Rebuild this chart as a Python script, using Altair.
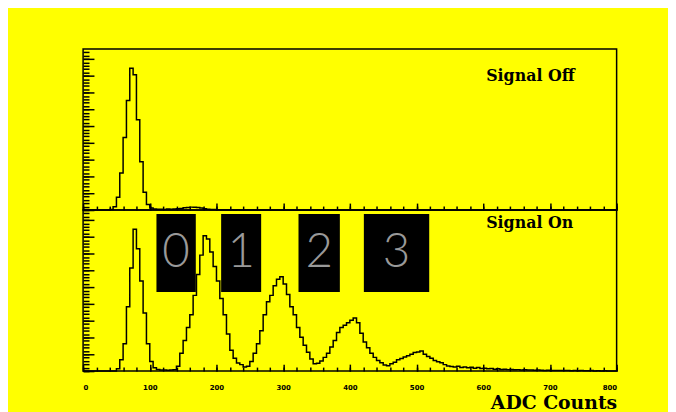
import altair as alt
import pandas as pd

# ---------------- data ----------------
# lower edges of 5-ADC-count bins, 0 .. 795
adc_edges = list(range(0, 800, 5))

# "Signal Off" histogram, per-mille of panel height
signal_off = [
    0, 0, 0, 0, 0, 0, 0, 0, 3, 20,
    80, 230, 450, 680, 880, 840, 560, 300, 110, 35,
    12, 7, 5, 5, 4, 6, 5, 7, 8, 10,
    14, 16, 18, 17, 15, 12, 8, 5, 3, 3,
    2, 2, 1, 1, 1, 0, 1, 0, 0, 0,
    0, 0, 0, 0, 0, 0, 0, 0, 0, 0,
    0, 0, 0, 0, 0, 0, 0, 0, 0, 0,
    0, 0, 0, 0, 0, 0, 0, 0, 0, 0,
    0, 0, 0, 0, 0, 0, 0, 0, 0, 0,
    0, 0, 0, 0, 0, 0, 0, 0, 0, 0,
    0, 0, 0, 0, 0, 0, 0, 0, 0, 0,
    0, 0, 0, 0, 0, 0, 0, 0, 0, 0,
    0, 0, 0, 0, 0, 0, 0, 0, 0, 0,
    0, 0, 0, 0, 0, 0, 0, 0, 0, 0,
    0, 0, 0, 0, 0, 0, 0, 0, 0, 0,
    0, 0, 0, 0, 0, 0, 0, 0, 0, 0,
]

# "Signal On" histogram, per-mille of panel height
signal_on = [
    0, 0, 0, 0, 0, 0, 0, 0, 0, 0,
    15, 70, 170, 400, 640, 880, 760, 560, 360, 170,
    60, 20, 10, 7, 6, 5, 6, 8, 30, 110,
    190, 270, 350, 470, 600, 720, 840, 820, 740, 650,
    560, 450, 350, 230, 130, 80, 50, 40, 25, 30,
    60, 110, 170, 250, 350, 430, 470, 530, 570, 585,
    540, 475, 400, 350, 270, 210, 160, 117, 75, 45,
    48, 62, 85, 110, 150, 190, 240, 270, 285, 300,
    315, 330, 300, 235, 180, 145, 110, 85, 65, 52,
    38, 33, 45, 55, 70, 78, 88, 95, 105, 115,
    118, 125, 105, 90, 80, 65, 58, 52, 40, 32,
    28, 25, 30, 22, 26, 20, 24, 18, 22, 16,
    18, 14, 16, 12, 14, 10, 12, 9, 10, 8,
    9, 7, 8, 6, 7, 5, 6, 5, 4, 5,
    4, 3, 4, 3, 3, 4, 2, 3, 2, 3,
    2, 2, 3, 1, 2, 1, 2, 0, 0, 0,
]

x_tick_labels = [0, 100, 200, 300, 400, 500, 600, 700, 800]
panel_labels = ["Signal Off", "Signal On"]

overlay_labels = ["0", "1", "2", "3"]
overlay_left = [110, 207, 323, 421]
overlay_right = [169, 267, 385, 519]

# ---------------- layout / style ----------------
W, H = 540, 163
YMAX = 960
READ_SCALE = 0.96  # per-mille of panel height -> count units of the axis
YELLOW = "#ffff00"

xscale = alt.Scale(domain=[0, 800], nice=False, zero=False)
yscale = alt.Scale(domain=[0, YMAX], nice=False, zero=True)


def hist_df(vals):
    xs = adc_edges + [800]
    ys = [v * READ_SCALE for v in vals] + [vals[-1] * READ_SCALE]
    return pd.DataFrame({"adc": xs, "counts": ys})


def tick_axis_x(step, size):
    return alt.Axis(orient="top", offset=-H, values=list(range(0, 801, step)),
                    tickSize=size, tickWidth=1.5, tickColor="black",
                    labels=False, domain=False, grid=False, title=None)


def tick_axis_y(step, top, size):
    return alt.Axis(orient="right", offset=-W, values=list(range(0, top + 1, step)),
                    tickSize=size, tickWidth=1.5, tickColor="black",
                    labels=False, domain=False, grid=False, title=None)


label_axis = alt.Axis(orient="bottom", values=x_tick_labels, ticks=False, tickSize=0,
                      domain=False, grid=False, labels=True, labelFlush=True,
                      labelFont="DejaVu Sans", labelFontSize=7, labelFontWeight="bold",
                      labelColor="black", labelPadding=13,
                      title="ADC Counts", titleFont="DejaVu Serif", titleFontSize=19,
                      titleFontWeight="bold", titleColor="black", titleAnchor="end",
                      titlePadding=3)


def panel(vals, label, label_y, bottom):
    df = hist_df(vals)
    base = alt.Chart(df)
    hist = base.mark_line(interpolate="step-after", color="black", strokeWidth=1.5).encode(
        x=alt.X("adc:Q", scale=xscale, axis=tick_axis_x(100, 7)),
        y=alt.Y("counts:Q", scale=yscale, axis=tick_axis_y(100, 900, 11)),
    )
    minor = base.mark_line(opacity=0).encode(
        x=alt.X("adc:Q", scale=xscale, axis=tick_axis_x(20, 4)),
        y=alt.Y("counts:Q", scale=yscale, axis=tick_axis_y(20, YMAX - 20, 6)),
    )
    layers = [hist, minor]
    if bottom:
        labs = base.mark_line(opacity=0).encode(
            x=alt.X("adc:Q", scale=xscale, axis=label_axis),
            y=alt.Y("counts:Q", scale=yscale, axis=None),
        )
        layers.append(labs)
        odf = pd.DataFrame({"lab": overlay_labels, "l": overlay_left, "r": overlay_right})
        odf["c"] = (odf["l"] + odf["r"]) / 2
        boxes = alt.Chart(odf).mark_rect(color="black").encode(
            x=alt.X("l:Q", scale=xscale, axis=None),
            x2="r:Q",
            y=alt.value(4),
            y2=alt.value(83),
        )
        digits = alt.Chart(odf).mark_text(
            font="Lato", fontWeight=300, fontSize=48, color="#999999",
            align="center", baseline="middle",
        ).encode(
            x=alt.X("c:Q", scale=xscale, axis=None),
            y=alt.value(44),
            text="lab:N",
        )
        layers += [boxes, digits]
    txt = alt.Chart(pd.DataFrame({"t": [label]})).mark_text(
        font="DejaVu Serif", fontSize=16, fontWeight="bold", color="black",
        align="left", baseline="middle",
    ).encode(text="t:N", x=alt.value(408), y=alt.value(label_y))
    layers.append(txt)
    return alt.layer(*layers).resolve_axis(x="independent", y="independent").properties(
        width=W, height=H)


top = panel(signal_off, panel_labels[0], 27, False)
bottom = panel(signal_on, panel_labels[1], 13, True)

chart = alt.vconcat(top, bottom, spacing=0, bounds="flush").properties(
    background=YELLOW,
    padding={"left": 72, "top": 38, "right": 48, "bottom": 0},
).configure_view(stroke="black", strokeWidth=1.5, fill=None)

chart.save("out.html", embed_options={"renderer": "svg", "actions": False})
